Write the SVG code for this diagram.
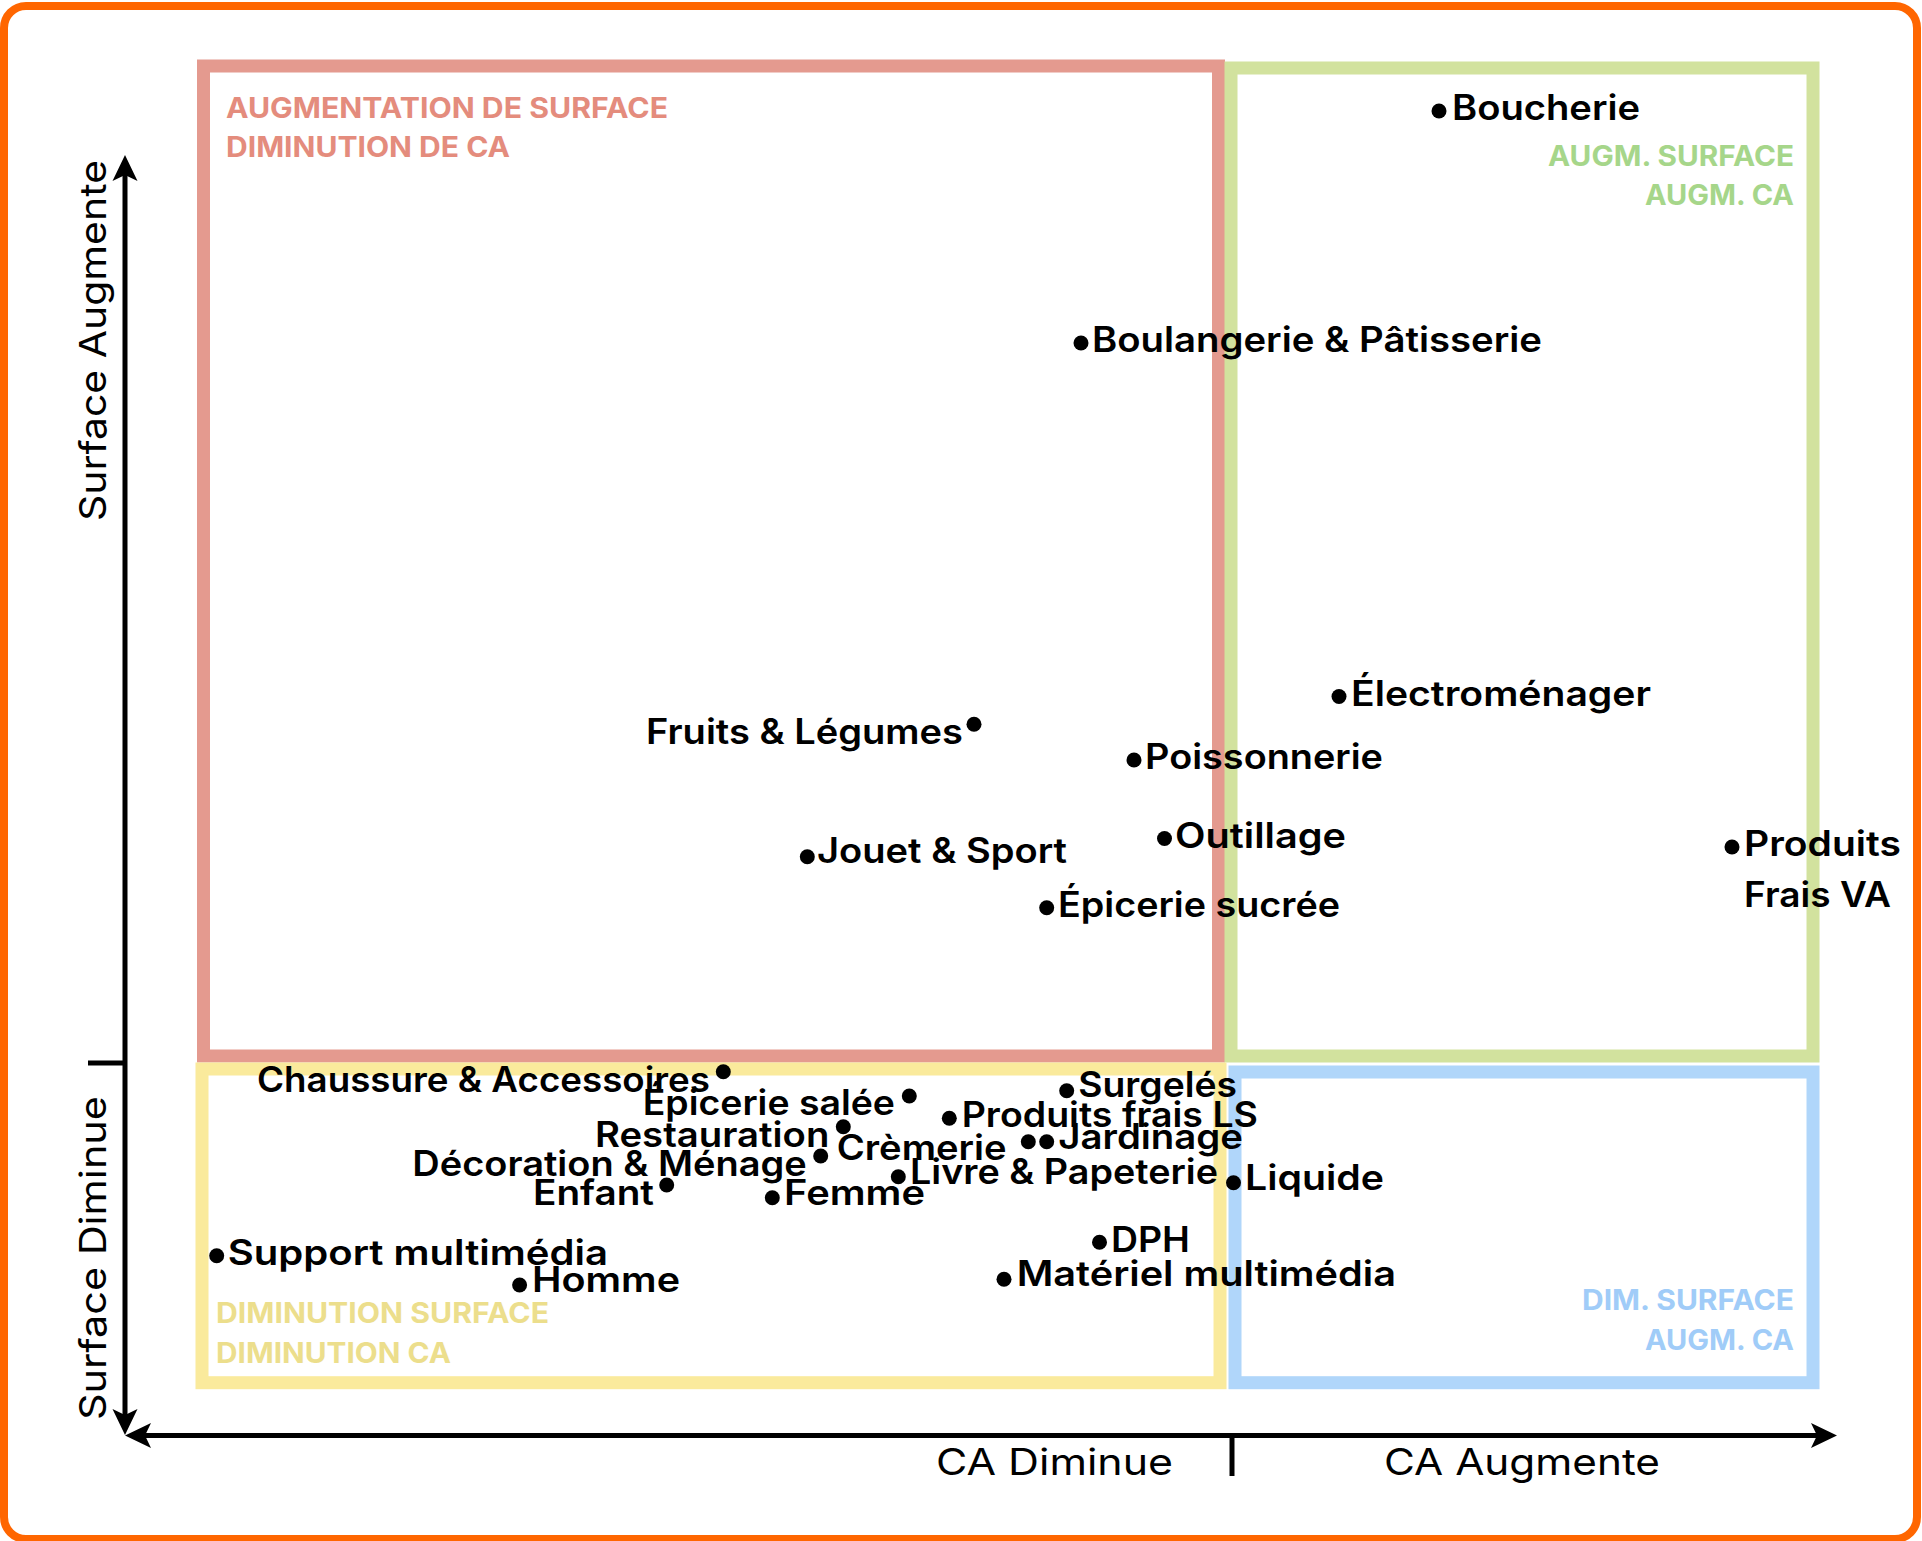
<svg xmlns="http://www.w3.org/2000/svg" width="1922" height="1541" viewBox="0 0 1922 1541">
  <style>
    .frame { fill: #ffffff; stroke: #ff6600; stroke-width: 8; }
    .quad { fill: none; stroke-width: 13; }
    .q-red { stroke: #e49a8f; }
    .q-green { stroke: #d2e29e; }
    .q-yellow { stroke: #faea9c; }
    .q-blue { stroke: #b0d6fa; }
    .qt { font-family: "Inter", "DejaVu Sans", sans-serif; font-weight: 700; font-size: 28px; }
    .qt-red { fill: #e48c7d; }
    .qt-green { fill: #a6d68a; }
    .qt-yellow { fill: #ecde8c; }
    .qt-blue { fill: #a0ccf8; }
    .axis { stroke: #000000; stroke-width: 5; fill: none; }
    .tick { stroke: #000000; stroke-width: 5; }
    .axlabel { font-family: "Inter", "DejaVu Sans", sans-serif; font-weight: 400; font-size: 37px; fill: #000000; }
    .dot { fill: #000000; }
    .lbl { font-family: "Inter", "DejaVu Sans", sans-serif; font-weight: 600; font-size: 35px; fill: #000000; }
  </style>
  <defs>
    <marker id="arrow" viewBox="-12 -14 28 28" refX="0" refY="0" markerWidth="28" markerHeight="28" markerUnits="userSpaceOnUse" orient="auto-start-reverse">
      <path d="M15,0 L-11,-12.5 L-5,0 L-11,12.5 Z" fill="#000000"/>
    </marker>
  </defs>

  <!-- outer frame -->
  <rect id="frame" class="frame" x="4" y="6" width="1913" height="1533" rx="22" ry="22"/>

  <!-- quadrants -->
  <g id="quad-surface-up-ca-down">
    <rect class="quad q-red" x="203.5" y="66" width="1015" height="990"/>
    <text class="qt qt-red" x="226" y="118.3" textLength="442" lengthAdjust="spacingAndGlyphs">AUGMENTATION DE SURFACE</text>
    <text class="qt qt-red" x="226" y="157.3" textLength="284" lengthAdjust="spacingAndGlyphs">DIMINUTION DE CA</text>
  </g>
  <g id="quad-surface-up-ca-up">
    <rect class="quad q-green" x="1231" y="68" width="582" height="988"/>
    <text class="qt qt-green" x="1548" y="165.5" textLength="246" lengthAdjust="spacingAndGlyphs">AUGM. SURFACE</text>
    <text class="qt qt-green" x="1645" y="205" textLength="149" lengthAdjust="spacingAndGlyphs">AUGM. CA</text>
  </g>
  <g id="quad-surface-down-ca-down">
    <rect class="quad q-yellow" x="202" y="1069" width="1018" height="313.7"/>
    <text class="qt qt-yellow" x="216" y="1323.3" textLength="333" lengthAdjust="spacingAndGlyphs">DIMINUTION SURFACE</text>
    <text class="qt qt-yellow" x="216" y="1362.7" textLength="235" lengthAdjust="spacingAndGlyphs">DIMINUTION CA</text>
  </g>
  <g id="quad-surface-down-ca-up">
    <rect class="quad q-blue" x="1235" y="1072" width="578" height="310.7"/>
    <text class="qt qt-blue" x="1582" y="1309.5" textLength="212" lengthAdjust="spacingAndGlyphs">DIM. SURFACE</text>
    <text class="qt qt-blue" x="1645" y="1349.5" textLength="149" lengthAdjust="spacingAndGlyphs">AUGM. CA</text>
  </g>

  <!-- axes -->
  <g id="axes">
    <line class="axis" x1="125" y1="170" x2="125" y2="1420" marker-start="url(#arrow)" marker-end="url(#arrow)"/>
    <line class="axis" x1="140" y1="1435.5" x2="1822" y2="1435.5" marker-start="url(#arrow)" marker-end="url(#arrow)"/>
    <line class="tick" x1="88" y1="1063" x2="125" y2="1063"/>
    <line class="tick" x1="1232" y1="1435" x2="1232" y2="1476"/>
    <text class="axlabel" transform="translate(106,521) rotate(-90)" x="0" y="0" textLength="361" lengthAdjust="spacingAndGlyphs">Surface Augmente</text>
    <text class="axlabel" transform="translate(106,1420) rotate(-90)" x="0" y="0" textLength="324" lengthAdjust="spacingAndGlyphs">Surface Diminue</text>
    <text class="axlabel" x="936" y="1475" textLength="237" lengthAdjust="spacingAndGlyphs">CA Diminue</text>
    <text class="axlabel" x="1384" y="1475" textLength="276" lengthAdjust="spacingAndGlyphs">CA Augmente</text>
  </g>

  <!-- rayons -->
  <g id="boucherie">
    <circle class="dot" cx="1439" cy="111" r="7.5"/>
    <text class="lbl" x="1452" y="120" textLength="188" lengthAdjust="spacingAndGlyphs">Boucherie</text>
  </g>
  <g id="boulangerie-patisserie">
    <circle class="dot" cx="1081" cy="343" r="7.5"/>
    <text class="lbl" x="1092" y="352" textLength="450" lengthAdjust="spacingAndGlyphs">Boulangerie &amp; Pâtisserie</text>
  </g>
  <g id="electromenager">
    <circle class="dot" cx="1339" cy="696.5" r="7.5"/>
    <text class="lbl" x="1351" y="706" textLength="300" lengthAdjust="spacingAndGlyphs">Électroménager</text>
  </g>
  <g id="fruits-legumes">
    <text class="lbl" x="646" y="744" textLength="317" lengthAdjust="spacingAndGlyphs">Fruits &amp; Légumes</text>
    <circle class="dot" cx="974" cy="724.3" r="7.5"/>
  </g>
  <g id="poissonnerie">
    <circle class="dot" cx="1134" cy="760" r="7.5"/>
    <text class="lbl" x="1145" y="768.6" textLength="238" lengthAdjust="spacingAndGlyphs">Poissonnerie</text>
  </g>
  <g id="outillage">
    <circle class="dot" cx="1164.5" cy="838.5" r="7.5"/>
    <text class="lbl" x="1175" y="848.3" textLength="171" lengthAdjust="spacingAndGlyphs">Outillage</text>
  </g>
  <g id="jouet-sport">
    <circle class="dot" cx="807.3" cy="856.7" r="7.5"/>
    <text class="lbl" x="817" y="862.7" textLength="250" lengthAdjust="spacingAndGlyphs">Jouet &amp; Sport</text>
  </g>
  <g id="produits-frais-va">
    <circle class="dot" cx="1732" cy="847" r="7.5"/>
    <text class="lbl" x="1744" y="855.6" textLength="157" lengthAdjust="spacingAndGlyphs">Produits</text>
    <text class="lbl" x="1744" y="907" textLength="147" lengthAdjust="spacingAndGlyphs">Frais VA</text>
  </g>
  <g id="epicerie-sucree">
    <circle class="dot" cx="1046.7" cy="907.7" r="7.5"/>
    <text class="lbl" x="1058" y="917" textLength="282" lengthAdjust="spacingAndGlyphs">Épicerie sucrée</text>
  </g>
  <g id="chaussure-accessoires">
    <text class="lbl" x="257" y="1091.7" textLength="453" lengthAdjust="spacingAndGlyphs">Chaussure &amp; Accessoires</text>
    <circle class="dot" cx="723.3" cy="1071.7" r="7.5"/>
  </g>
  <g id="epicerie-salee">
    <text class="lbl" x="642.7" y="1115" textLength="252.3" lengthAdjust="spacingAndGlyphs">Épicerie salée</text>
    <circle class="dot" cx="909.3" cy="1096" r="7.5"/>
  </g>
  <g id="restauration">
    <text class="lbl" x="595" y="1147.3" textLength="234.3" lengthAdjust="spacingAndGlyphs">Restauration</text>
    <circle class="dot" cx="843.3" cy="1126.7" r="7.5"/>
  </g>
  <g id="decoration-menage">
    <text class="lbl" x="412.3" y="1175.5" textLength="394.4" lengthAdjust="spacingAndGlyphs">Décoration &amp; Ménage</text>
    <circle class="dot" cx="820.7" cy="1156" r="7.5"/>
  </g>
  <g id="enfant">
    <text class="lbl" x="533" y="1205" textLength="121" lengthAdjust="spacingAndGlyphs">Enfant</text>
    <circle class="dot" cx="666.7" cy="1185" r="7.5"/>
  </g>
  <g id="cremerie">
    <text class="lbl" x="836.7" y="1160" textLength="170" lengthAdjust="spacingAndGlyphs">Crèmerie</text>
  </g>
  <g id="femme">
    <circle class="dot" cx="772.3" cy="1197.7" r="7.5"/>
    <text class="lbl" x="784" y="1205" textLength="141" lengthAdjust="spacingAndGlyphs">Femme</text>
  </g>
  <g id="livre-papeterie">
    <circle class="dot" cx="898.3" cy="1176.7" r="7.5"/>
    <text class="lbl" x="910" y="1183.5" textLength="308" lengthAdjust="spacingAndGlyphs">Livre &amp; Papeterie</text>
  </g>
  <g id="produits-frais-ls">
    <circle class="dot" cx="949.3" cy="1118.3" r="7.5"/>
    <text class="lbl" x="961.7" y="1126.7" textLength="296.3" lengthAdjust="spacingAndGlyphs">Produits frais LS</text>
  </g>
  <g id="jardinage">
    <circle class="dot" cx="1028.3" cy="1141.7" r="7.5"/>
    <circle class="dot" cx="1046.7" cy="1141.7" r="7.5"/>
    <text class="lbl" x="1058.3" y="1149" textLength="184.7" lengthAdjust="spacingAndGlyphs">Jardinage</text>
  </g>
  <g id="surgeles">
    <circle class="dot" cx="1066.7" cy="1090.7" r="7.5"/>
    <text class="lbl" x="1078.3" y="1097" textLength="158.7" lengthAdjust="spacingAndGlyphs">Surgelés</text>
  </g>
  <g id="liquide">
    <circle class="dot" cx="1233.5" cy="1182.7" r="7.5"/>
    <text class="lbl" x="1245" y="1190" textLength="139" lengthAdjust="spacingAndGlyphs">Liquide</text>
  </g>
  <g id="dph">
    <circle class="dot" cx="1099.5" cy="1242.3" r="7.5"/>
    <text class="lbl" x="1111" y="1251.7" textLength="79" lengthAdjust="spacingAndGlyphs">DPH</text>
  </g>
  <g id="materiel-multimedia">
    <circle class="dot" cx="1004" cy="1279.3" r="7.5"/>
    <text class="lbl" x="1016.7" y="1286" textLength="379.3" lengthAdjust="spacingAndGlyphs">Matériel multimédia</text>
  </g>
  <g id="support-multimedia">
    <circle class="dot" cx="216.7" cy="1255.7" r="7.5"/>
    <text class="lbl" x="227.7" y="1265" textLength="380.3" lengthAdjust="spacingAndGlyphs">Support multimédia</text>
  </g>
  <g id="homme">
    <circle class="dot" cx="519.6" cy="1285" r="7.5"/>
    <text class="lbl" x="532" y="1291.7" textLength="148" lengthAdjust="spacingAndGlyphs">Homme</text>
  </g>
</svg>
